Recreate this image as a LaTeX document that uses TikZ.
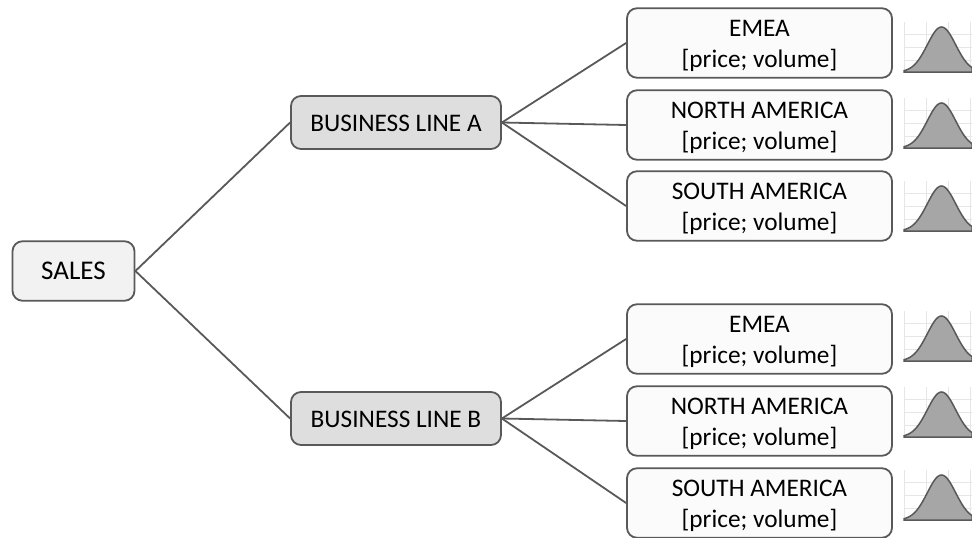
\documentclass[tikz,border=0pt]{standalone}
\usepackage{fontspec}
\setmainfont{Carlito}
\definecolor{edgegray}{HTML}{595959}
\definecolor{rootfill}{HTML}{F2F2F2}
\definecolor{linefill}{HTML}{DEDEDE}
\definecolor{leaffill}{HTML}{FBFBFB}
\definecolor{bellfill}{HTML}{A6A6A6}
\definecolor{gridgray}{HTML}{E6E6E6}
\tikzset{
  box/.style={draw=edgegray, line width=1.8pt, rounded corners=10pt, inner sep=0pt, align=center, font=\fontsize{25.3}{31}\selectfont},
  rootbox/.style={box, fill=rootfill, minimum width=122pt, minimum height=59.5pt, font=\fontsize{27}{31}\selectfont},
  linebox/.style={box, fill=linefill, minimum width=210pt, minimum height=53pt, text height=18.5pt},
  leafbox/.style={box, fill=leaffill, minimum width=265pt, minimum height=69.5pt, text height=53pt},
  link/.style={draw=edgegray, line width=1.8pt},
  pics/bell/.style={code={
    \foreach \gx in {0,22,44,66} \draw[gridgray, line width=0.7pt] (\gx,-50) -- (\gx,0);
    \foreach \gy in {-12,-25,-38} \draw[gridgray, line width=0.7pt] (0,\gy) -- (68,\gy);
    \fill[bellfill] (0,0) -- plot[domain=0:68, samples=50, smooth] (\x,{-45*exp(-((\x-37.5)/20)^2)}) -- (68,0) -- cycle;
    \draw[edgegray, line width=1.5pt] (0,0) -- plot[domain=0:68, samples=50, smooth] (\x,{-45*exp(-((\x-37.5)/20)^2)}) -- (68,0) -- cycle;
  }}
}

\begin{document}
\begin{tikzpicture}[x=1pt,y=-1pt]
  \useasboundingbox (0,0) rectangle (972,538);
  \node[rootbox] (sales) at (73.5,271) {SALES};
  \node[linebox] (lineA) at (396,122.5) {BUSINESS LINE A};
  \node[linebox] (lineB) at (396,418.5) {BUSINESS LINE B};
  % leaves of line A
  \node[leafbox] (emeaA) at (759.5,43) {EMEA\\{[price; volume]}};
  \node[leafbox] (northA) at (759.5,125) {NORTH AMERICA\\{[price; volume]}};
  \node[leafbox] (southA) at (759.5,206) {SOUTH AMERICA\\{[price; volume]}};
  % leaves of line B
  \node[leafbox] (emeaB) at (759.5,339) {EMEA\\{[price; volume]}};
  \node[leafbox] (northB) at (759.5,421) {NORTH AMERICA\\{[price; volume]}};
  \node[leafbox] (southB) at (759.5,503) {SOUTH AMERICA\\{[price; volume]}};
  \draw[link] (sales.east) -- (lineA.west);
  \draw[link] (sales.east) -- (lineB.west);
  \foreach \leaf in {emeaA,northA,southA} \draw[link] (lineA.east) -- (\leaf.west);
  \foreach \leaf in {emeaB,northB,southB} \draw[link] (lineB.east) -- (\leaf.west);
  \foreach \by in {72,148,231,361,437,520} \pic at (904,\by) {bell};
\end{tikzpicture}
\end{document}
